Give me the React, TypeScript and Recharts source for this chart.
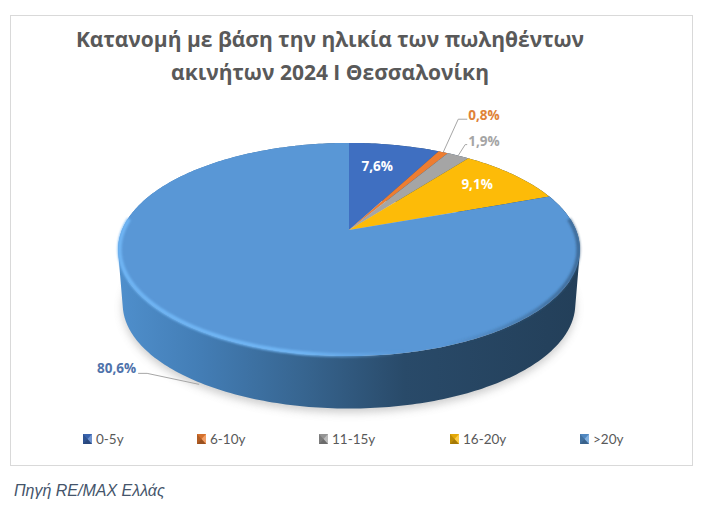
import { Legend, Pie, PieChart } from "recharts";

const AGE_GROUPS = ["0-5y", "6-10y", "11-15y", "16-20y", ">20y"];
const SHARES = [7.6, 0.8, 1.9, 9.1, 80.6];
const SHARE_LABELS = ["7,6%", "0,8%", "1,9%", "9,1%", "80,6%"];

const COLORS = ["#3f6fc1", "#ed7d31", "#a5a5a5", "#fdbb08", "#5997d6"];
const LABEL_COLORS = ["#ffffff", "#e08238", "#a5a5a5", "#ffffff", "#4f73ab"];
const LEGEND_LEFT = [83, 197, 319, 450, 580];

const rows = AGE_GROUPS.map((name, i) => ({ name, value: SHARES[i], fill: COLORS[i] }));

// the tilted disc: Excel draws it with perspective, so the apex sits above the ellipse centre
const TILT = 103 / 227;
const PERSPECTIVE = 0.183;
const DEPTH = 55;
const BOTTOM_SCALE = 0.98;

type Pt = { x: number; y: number };

function project(cx: number, cy: number, radius: number, angle: number, r = 1): Pt {
  const rad = (angle * Math.PI) / 180;
  const u = Math.cos(rad) * r;
  const v = Math.sin(rad) * r;
  const w = 1 + PERSPECTIVE * v;
  return { x: cx + (radius * u) / w, y: cy - (radius * TILT * v) / w };
}

function arcAngles(start: number, end: number) {
  const steps = Math.max(2, Math.ceil(Math.abs(end - start)));
  const out: number[] = [];
  for (let i = 0; i <= steps; i++) out.push(start + ((end - start) * i) / steps);
  return out;
}

const arcPoints = (cx: number, cy: number, radius: number, start: number, end: number) =>
  arcAngles(start, end).map((a) => project(cx, cy, radius, a));

const toPath = (pts: Pt[]) =>
  pts.map((p, i) => `${i ? "L" : "M"}${p.x.toFixed(2)},${p.y.toFixed(2)}`).join(" ");

function TopSlice(props: any) {
  const { cx, cy, outerRadius, startAngle, endAngle, fill } = props;
  const arc = arcPoints(cx, cy, outerRadius, startAngle, endAngle);
  return <path d={`M${cx},${cy} ${toPath(arc).replace("M", "L")} Z`} fill={fill} />;
}

// one quad per degree, all wound the same way, so the side edges of the wall fill in
function WallSlice(props: any) {
  const { cx, cy, outerRadius, startAngle, endAngle } = props;
  const top = arcPoints(cx, cy, outerRadius, startAngle, endAngle);
  const bottom = arcPoints(cx, cy + DEPTH, outerRadius * BOTTOM_SCALE, startAngle, endAngle);
  const quads = [];
  for (let i = 0; i < top.length - 1; i++) {
    const q = [top[i], top[i + 1], bottom[i + 1], bottom[i]];
    const area = q.reduce((s, p, k) => {
      const n = q[(k + 1) % 4];
      return s + p.x * n.y - n.x * p.y;
    }, 0);
    quads.push(toPath(area < 0 ? q.reverse() : q) + " Z");
  }
  return <path d={quads.join(" ")} fill="url(#wallShade)" />;
}

function ShadowSlice(props: any) {
  const { cx, cy, outerRadius, startAngle, endAngle } = props;
  const arc = arcPoints(cx, cy + DEPTH + 4, outerRadius * BOTTOM_SCALE, startAngle, endAngle);
  return (
    <path
      d={`M${cx},${cy + DEPTH + 4} ${toPath(arc).replace("M", "L")} Z`}
      fill="#8f8f8f"
      opacity={0.45}
      filter="url(#softShadow)"
    />
  );
}

function RimSlice(props: any) {
  const { cx, cy, outerRadius, startAngle, endAngle } = props;
  const front = arcAngles(startAngle, endAngle).filter((a) => Math.sin((a * Math.PI) / 180) < 0.12);
  const arc = front.map((a) => project(cx, cy, outerRadius - 1.5, a));
  return <path d={toPath(arc)} fill="none" stroke="url(#rimShade)" strokeWidth={4} filter="url(#rimBlur)" />;
}

function sliceLabel(props: any) {
  const { cx, cy, outerRadius, midAngle, index } = props;
  const color = LABEL_COLORS[index];
  const text = SHARE_LABELS[index];
  const style = { fontFamily: "'Open Sans'", fontWeight: 700, fontSize: 13.5 };
  if (index === 0 || index === 3) {
    const p = project(cx, cy, outerRadius, midAngle, index === 0 ? 0.72 : 0.78);
    return (
      <text
        x={p.x + (index === 0 ? -6 : -3)}
        y={p.y + (index === 0 ? 0 : -2)}
        fill={color}
        textAnchor="middle"
        dominantBaseline="central"
        style={style}
      >
        {text}
      </text>
    );
  }
  const edge = project(cx, cy, outerRadius, midAngle);
  if (index === 4) {
    const foot = { x: edge.x + 3, y: edge.y + DEPTH };
    return (
      <g>
        <polyline
          points={`${foot.x},${foot.y} ${foot.x - 52},${foot.y - 11} ${foot.x - 61},${foot.y - 11}`}
          fill="none"
          stroke="#a6a6a6"
          strokeWidth={1}
        />
        <text x={foot.x - 63} y={foot.y - 16} fill={color} textAnchor="end" dominantBaseline="central" style={style}>
          {text}
        </text>
      </g>
    );
  }
  const rise = index === 1 ? 33 : 11;
  const run = index === 1 ? 15 : 7;
  const tail = index === 1 ? 9 : 2;
  return (
    <g>
      <polyline
        points={`${edge.x},${edge.y} ${edge.x + run},${edge.y - rise} ${edge.x + run + tail},${edge.y - rise}`}
        fill="none"
        stroke="#a6a6a6"
        strokeWidth={1}
      />
      <text
        x={edge.x + run + tail + 1}
        y={edge.y - rise - 4}
        fill={color}
        dominantBaseline="central"
        style={style}
      >
        {text}
      </text>
    </g>
  );
}

function LegendIcon({ color }: { color: string }) {
  return (
    <svg width={9} height={10} style={{ position: "absolute", left: 0, top: 0 }}>
      <rect width={9} height={10} fill={color} />
      <path d="M0,0 L4.5,5 L0,10 Z" fill="#000" opacity={0.25} />
      <path d="M9,0 L4.5,5 L9,10 Z" fill="#fff" opacity={0.25} />
      <path d="M0,0 L9,0 L4.5,5 Z" fill="#000" opacity={0.1} />
      <path d="M0,10 L9,10 L4.5,5 Z" fill="#000" opacity={0.35} />
    </svg>
  );
}

function AgeLegend() {
  return (
    <div style={{ position: "relative", width: 723, height: 20 }}>
      {AGE_GROUPS.map((name, i) => (
        <div key={name} style={{ position: "absolute", left: LEGEND_LEFT[i], top: 0, height: 12 }}>
          <LegendIcon color={COLORS[i]} />
          <span
            style={{
              position: "absolute",
              left: 13,
              top: -3,
              fontFamily: "Lato",
              fontSize: 13.5,
              color: "#595959",
              whiteSpace: "nowrap",
            }}
          >
            {name}
          </span>
        </div>
      ))}
    </div>
  );
}

export default function App() {
  const pieProps = {
    data: rows,
    dataKey: "value",
    nameKey: "name",
    cx: 349,
    cy: 230,
    outerRadius: 227,
    startAngle: 90,
    endAngle: -270,
    label: false,
    labelLine: false,
    isAnimationActive: false,
  };
  return (
    <div style={{ position: "absolute", left: 0, top: 0, width: 723, height: 529, background: "#fff" }}>
      <div
        style={{
          position: "absolute",
          left: 10,
          top: 15,
          width: 681,
          height: 449,
          border: "1px solid #d9d9d9",
        }}
      />
      <div
        style={{
          position: "absolute",
          left: 0,
          top: 23,
          width: 660,
          textAlign: "center",
          fontFamily: "'Open Sans'",
          fontWeight: 700,
          fontSize: 21,
          lineHeight: "33px",
          color: "#595959",
        }}
      >
        Κατανομή με βάση την ηλικία των πωληθέντων
        <br />
        ακινήτων 2024 Ι Θεσσαλονίκη
      </div>
      <PieChart
        width={723}
        height={529}
        margin={{ top: 0, right: 0, bottom: 0, left: 0 }}
        style={{ position: "absolute", left: 0, top: 0 }}
      >
        <defs>
          <linearGradient id="wallShade" gradientUnits="userSpaceOnUse" x1={118} x2={580} y1={0} y2={0}>
            <stop offset="0" stopColor="#4f8fcc" />
            <stop offset="0.18" stopColor="#437db5" />
            <stop offset="0.4" stopColor="#376590" />
            <stop offset="0.62" stopColor="#294a69" />
            <stop offset="1" stopColor="#233f59" />
          </linearGradient>
          <linearGradient id="rimShade" gradientUnits="userSpaceOnUse" x1={118} x2={580} y1={0} y2={0}>
            <stop offset="0" stopColor="#6fb5f4" />
            <stop offset="0.4" stopColor="#6fb5f4" />
            <stop offset="0.62" stopColor="#6fb5f4" stopOpacity={0} />
            <stop offset="0.7" stopColor="#33597f" stopOpacity={0} />
            <stop offset="1" stopColor="#33597f" stopOpacity={0.7} />
          </linearGradient>
          <filter id="softShadow" x="-10%" y="-10%" width="120%" height="120%">
            <feGaussianBlur stdDeviation={4} />
          </filter>
          <filter id="rimBlur" x="-5%" y="-5%" width="110%" height="110%">
            <feGaussianBlur stdDeviation={0.9} />
          </filter>
        </defs>
        <Pie {...pieProps} shape={ShadowSlice} legendType="none" />
        <Pie {...pieProps} shape={WallSlice} legendType="none" />
        <Pie {...pieProps} shape={TopSlice} />
        <Pie
          {...pieProps}
          data={rows.slice(4)}
          startAngle={90 - (360 * (100 - SHARES[4])) / 100}
          shape={RimSlice}
          legendType="none"
        />
        <Pie {...pieProps} shape={() => <g />} legendType="none" label={sliceLabel} />
        <Legend content={<AgeLegend />} wrapperStyle={{ left: 0, top: 434, width: 723 }} />
      </PieChart>
      <div
        style={{
          position: "absolute",
          left: 14,
          top: 482,
          fontFamily: "'Liberation Sans'",
          fontStyle: "italic",
          fontSize: 16,
          color: "#44546a",
        }}
      >
        Πηγή RE/MAX Ελλάς
      </div>
    </div>
  );
}
